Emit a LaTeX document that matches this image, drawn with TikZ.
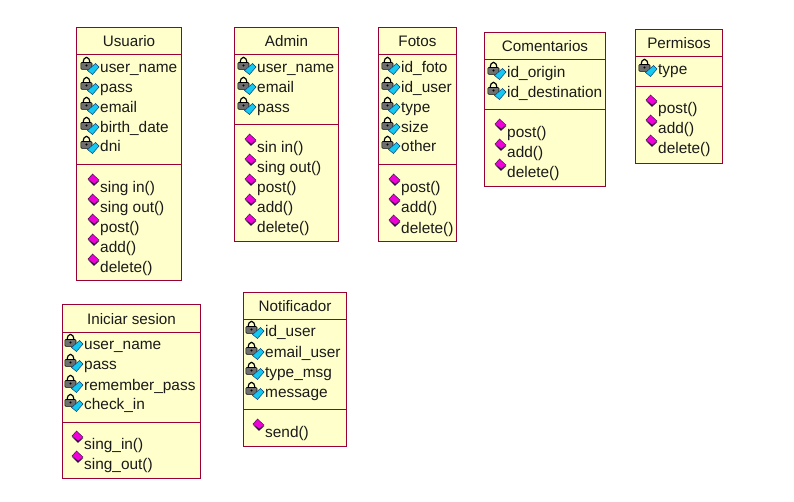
\documentclass[tikz,border=0pt]{standalone}
\usepackage{fontspec}
\setmainfont{Liberation Sans}
\definecolor{boxfill}{HTML}{FFFFCB}
\definecolor{boxline}{HTML}{990033}
\definecolor{txt}{HTML}{1A1A1A}
\definecolor{attrblue}{HTML}{14C8F0}
\definecolor{attrdark}{HTML}{0A3C78}
\definecolor{opmag}{HTML}{F000D8}
\definecolor{opdark}{HTML}{30103C}
\definecolor{lockgray}{HTML}{6E6E6E}
\tikzset{
  x=1pt,y=-1pt,
  cbox/.style={draw=boxline,fill=boxfill,line width=1pt,inner sep=0pt,minimum width=0pt},
  ctitle/.style={font=\fontsize{15.2}{15}\selectfont,text=txt,inner sep=0pt,anchor=center},
  member/.style={font=\fontsize{15.4}{15}\selectfont,text=txt,inner sep=0pt,anchor=base west},
  sepline/.style={draw=boxline,line width=1pt}
}
% class frame: name, title, x0, x1, y0, y1, y2, y3
\newcommand{\classbox}[8]{%
  \draw[cbox] ({#3+0.5},{#5+0.3}) rectangle ({#4-0.3},{#8+0.3});
  \draw[sepline] ({#3+0.5},{#6+0.3}) -- ({#4-0.3},{#6+0.3});
  \draw[sepline] ({#3+0.5},{#7+0.3}) -- ({#4-0.3},{#7+0.3});
  \node[ctitle] (#1) at ({(#3+#4)/2},{(#5+#6)/2+0.7}) {#2};
}
% attribute row: x, y (centre of text), text
\newcommand{\attrrow}[3]{%
  \begin{scope}[shift={(#1,#2)}]
    \draw[black,line width=1.2pt] (-16.8,-4) .. controls (-16.8,-11.6) and (-10.2,-11.6) .. (-10.2,-4);
    \fill[lockgray,draw=black,line width=.6pt,rounded corners=1pt] (-19.2,-4.5) rectangle (-8,2.3);
    \fill[black] (-13.5,-1.5) circle[radius=1.1];
    \fill[attrblue,draw=attrdark,line width=.5pt] (-1,0) -- (-4.5,-3.5) -- (-12.5,3.5) -- (-7.5,7.5) -- cycle;
    \node[member] at (0,5.2) {#3};
  \end{scope}}
% operation row: x, y (centre of text), text
\newcommand{\oprow}[3]{%
  \begin{scope}[shift={(#1,#2)}]
    \fill[opdark] (-12,-7) -- (-6,-1.2) -- (-0.6,-6) -- (-6,-4) -- cycle;
    \fill[opmag,draw=opdark,line width=.4pt] (-12,-8) -- (-7.5,-13) -- (-1,-7) -- (-5.8,-2.8) -- cycle;
    \node[member] at (0,5.2) {#3};
  \end{scope}}
\begin{document}
\begin{tikzpicture}
\useasboundingbox[fill=white] (0,0) rectangle (794,501);

\classbox{usuario}{Usuario}{76}{182}{27}{54}{164}{280}
\attrrow{100}{67}{user\_name}
\attrrow{100}{87}{pass}
\attrrow{100}{107}{email}
\attrrow{100}{127}{birth\_date}
\attrrow{100}{146}{dni}
\oprow{100}{187}{sing in()}
\oprow{100}{207}{sing out()}
\oprow{100}{227}{post()}
\oprow{100}{247}{add()}
\oprow{100}{267}{delete()}

\classbox{admin}{Admin}{234}{339}{27}{54}{124}{241}
\attrrow{257}{67}{user\_name}
\attrrow{257}{87}{email}
\attrrow{257}{107}{pass}
\oprow{257}{147}{sin in()}
\oprow{257}{167}{sing out()}
\oprow{257}{187}{post()}
\oprow{257}{207}{add()}
\oprow{257}{227}{delete()}

\classbox{fotos}{Fotos}{378}{457}{27}{54}{164}{241}
\attrrow{401}{67}{id\_foto}
\attrrow{401}{87}{id\_user}
\attrrow{401}{107}{type}
\attrrow{401}{127}{size}
\attrrow{401}{146}{other}
\oprow{401}{187}{post()}
\oprow{401}{207}{add()}
\oprow{401}{228}{delete()}

\classbox{comentarios}{Comentarios}{484}{606}{32}{59}{109}{186}
\attrrow{507}{72}{id\_origin}
\attrrow{507}{92}{id\_destination}
\oprow{507}{132}{post()}
\oprow{507}{152}{add()}
\oprow{507}{172}{delete()}

\classbox{permisos}{Permisos}{635}{723}{29}{56}{86}{163}
\attrrow{658}{69}{type}
\oprow{658}{108}{post()}
\oprow{658}{128}{add()}
\oprow{658}{148}{delete()}

\classbox{iniciar}{Iniciar sesion}{62}{201}{304}{332}{422}{478}
\attrrow{84}{344}{user\_name}
\attrrow{84}{364}{pass}
\attrrow{84}{385}{remember\_pass}
\attrrow{84}{404}{check\_in}
\oprow{84}{444}{sing\_in()}
\oprow{84}{464}{sing\_out()}

\classbox{notificador}{Notificador}{243}{347}{292}{319}{409}{446}
\attrrow{265}{331}{id\_user}
\attrrow{265}{352}{email\_user}
\attrrow{265}{372}{type\_msg}
\attrrow{265}{392}{message}
\oprow{265}{432}{send()}
\end{tikzpicture}
\end{document}
